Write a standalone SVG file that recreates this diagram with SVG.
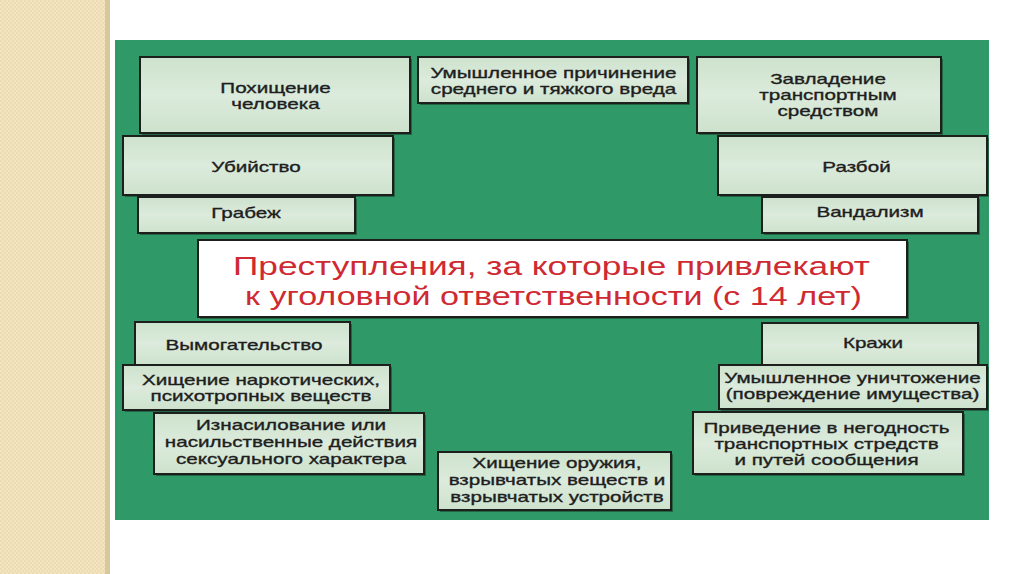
<svg xmlns="http://www.w3.org/2000/svg" width="1024" height="574" viewBox="0 0 1024 574">
  <defs>
    <pattern id="beige" width="4" height="4" patternUnits="userSpaceOnUse">
      <rect width="4" height="4" fill="#f3e5c1"/>
      <rect width="2" height="2" fill="#eddcb2"/>
      <rect x="2" y="2" width="2" height="2" fill="#eddcb2"/>
    </pattern>
    <linearGradient id="boxfill" x1="0" y1="0" x2="0" y2="1">
      <stop offset="0" stop-color="#cde2cd"/>
      <stop offset="0.5" stop-color="#dcebdc"/>
      <stop offset="1" stop-color="#cde2cd"/>
    </linearGradient>
    <style>
      .shadow { fill: #173a26; opacity: 0.55; }
      .box { fill: url(#boxfill); stroke: #1c1f1c; stroke-width: 2; }
      .tbox { fill: #ffffff; stroke: #1c1f1c; stroke-width: 2; }
      .lbl { font-family: "Liberation Sans", Arial, sans-serif; font-size: 15px; fill: #1e1e1e; stroke: #1e1e1e; stroke-width: 0.35; text-anchor: middle; }
      .title { font-family: "Liberation Sans", Arial, sans-serif; font-size: 25px; fill: #cf2a32; text-anchor: middle; }
    </style>
  </defs>

  <rect width="1024" height="574" fill="#ffffff"/>
  <rect x="0" y="0" width="107" height="574" fill="url(#beige)"/>
  <rect x="105" y="0" width="5" height="574" fill="#d8c89e"/>

  <rect x="115" y="40" width="874" height="480" fill="#2f9a67"/>

  <g id="connectors"></g>

  <g id="n-pohishchenie">
    <rect class="shadow" x="142" y="59" width="270" height="76"/>
    <rect class="box" x="140" y="57" width="270" height="76"/>
    <g transform="translate(275.5 0) scale(1.375 1)">
      <text class="lbl" x="0" y="93">Похищение</text>
      <text class="lbl" x="0" y="109">человека</text>
    </g>
  </g>

  <g id="n-umyshlennoe-prichinenie">
    <rect class="shadow" x="420" y="59" width="270" height="46"/>
    <rect class="box" x="418" y="57" width="270" height="46"/>
    <g transform="translate(553.5 0) scale(1.375 1)">
      <text class="lbl" x="0" y="78">Умышленное причинение</text>
      <text class="lbl" x="0" y="94">среднего и тяжкого вреда</text>
    </g>
  </g>

  <g id="n-zavladenie">
    <rect class="shadow" x="699" y="59" width="244" height="76"/>
    <rect class="box" x="697" y="57" width="244" height="76"/>
    <g transform="translate(828 0) scale(1.375 1)">
      <text class="lbl" x="0" y="84">Завладение</text>
      <text class="lbl" x="0" y="100">транспортным</text>
      <text class="lbl" x="0" y="116">средством</text>
    </g>
  </g>

  <g id="n-ubiystvo">
    <rect class="shadow" x="125" y="138" width="270" height="59"/>
    <rect class="box" x="123" y="136" width="270" height="59"/>
    <g transform="translate(256 0) scale(1.375 1)">
      <text class="lbl" x="0" y="172">Убийство</text>
    </g>
  </g>

  <g id="n-razboy">
    <rect class="shadow" x="720" y="138" width="269" height="59"/>
    <rect class="box" x="718" y="136" width="269" height="59"/>
    <g transform="translate(856.5 0) scale(1.375 1)">
      <text class="lbl" x="0" y="172">Разбой</text>
    </g>
  </g>

  <g id="n-grabezh">
    <rect class="shadow" x="140" y="199" width="217" height="36"/>
    <rect class="box" x="138" y="197" width="217" height="36"/>
    <g transform="translate(246 0) scale(1.375 1)">
      <text class="lbl" x="0" y="218">Грабеж</text>
    </g>
  </g>

  <g id="n-vandalizm">
    <rect class="shadow" x="764" y="199" width="216" height="36"/>
    <rect class="box" x="762" y="197" width="216" height="36"/>
    <g transform="translate(870 0) scale(1.375 1)">
      <text class="lbl" x="0" y="217">Вандализм</text>
    </g>
  </g>

  <g id="n-title">
    <rect class="shadow" x="200" y="242" width="709" height="77"/>
    <rect class="tbox" x="198" y="240" width="709" height="77"/>
    <text class="title" x="551.5" y="275" textLength="637" lengthAdjust="spacingAndGlyphs">Преступления, за которые привлекают</text>
    <text class="title" x="553.5" y="305" textLength="617" lengthAdjust="spacingAndGlyphs">к уголовной ответственности (с 14 лет)</text>
  </g>

  <g id="n-vymogatelstvo">
    <rect class="shadow" x="137" y="324" width="215" height="43"/>
    <rect class="box" x="135" y="322" width="215" height="43"/>
    <g transform="translate(244 0) scale(1.375 1)">
      <text class="lbl" x="0" y="350">Вымогательство</text>
    </g>
  </g>

  <g id="n-krazhi">
    <rect class="shadow" x="764" y="325" width="216" height="45"/>
    <rect class="box" x="762" y="323" width="216" height="45"/>
    <g transform="translate(873 0) scale(1.375 1)">
      <text class="lbl" x="0" y="348">Кражи</text>
    </g>
  </g>

  <g id="n-narkotiki">
    <rect class="shadow" x="125" y="367" width="267" height="45"/>
    <rect class="box" x="123" y="365" width="267" height="45"/>
    <g transform="translate(261 0) scale(1.375 1)">
      <text class="lbl" x="0" y="385">Хищение наркотических,</text>
      <text class="lbl" x="0" y="401">психотропных веществ</text>
    </g>
  </g>

  <g id="n-unichtozhenie">
    <rect class="shadow" x="721" y="367" width="268" height="44"/>
    <rect class="box" x="719" y="365" width="268" height="44"/>
    <g transform="translate(852.5 0) scale(1.375 1)">
      <text class="lbl" x="0" y="383">Умышленное уничтожение</text>
      <text class="lbl" x="0" y="399">(повреждение имущества)</text>
    </g>
  </g>

  <g id="n-iznasilovanie">
    <rect class="shadow" x="156" y="415" width="270" height="61"/>
    <rect class="box" x="154" y="413" width="270" height="61"/>
    <g transform="translate(291 0) scale(1.375 1)">
      <text class="lbl" x="0" y="430">Изнасилование или</text>
      <text class="lbl" x="0" y="447">насильственные действия</text>
      <text class="lbl" x="0" y="464">сексуального характера</text>
    </g>
  </g>

  <g id="n-privedenie">
    <rect class="shadow" x="695" y="414" width="270" height="62"/>
    <rect class="box" x="693" y="412" width="270" height="62"/>
    <g transform="translate(826.5 0) scale(1.375 1)">
      <text class="lbl" x="0" y="433">Приведение в негодность</text>
      <text class="lbl" x="0" y="449">транспортных стредств</text>
      <text class="lbl" x="0" y="465">и путей сообщения</text>
    </g>
  </g>

  <g id="n-oruzhie">
    <rect class="shadow" x="440" y="454" width="233" height="58"/>
    <rect class="box" x="438" y="452" width="233" height="58"/>
    <g transform="translate(557 0) scale(1.375 1)">
      <text class="lbl" x="0" y="468">Хищение оружия,</text>
      <text class="lbl" x="0" y="485">взрывчатых веществ и</text>
      <text class="lbl" x="0" y="502">взрывчатых устройств</text>
    </g>
  </g>
</svg>
